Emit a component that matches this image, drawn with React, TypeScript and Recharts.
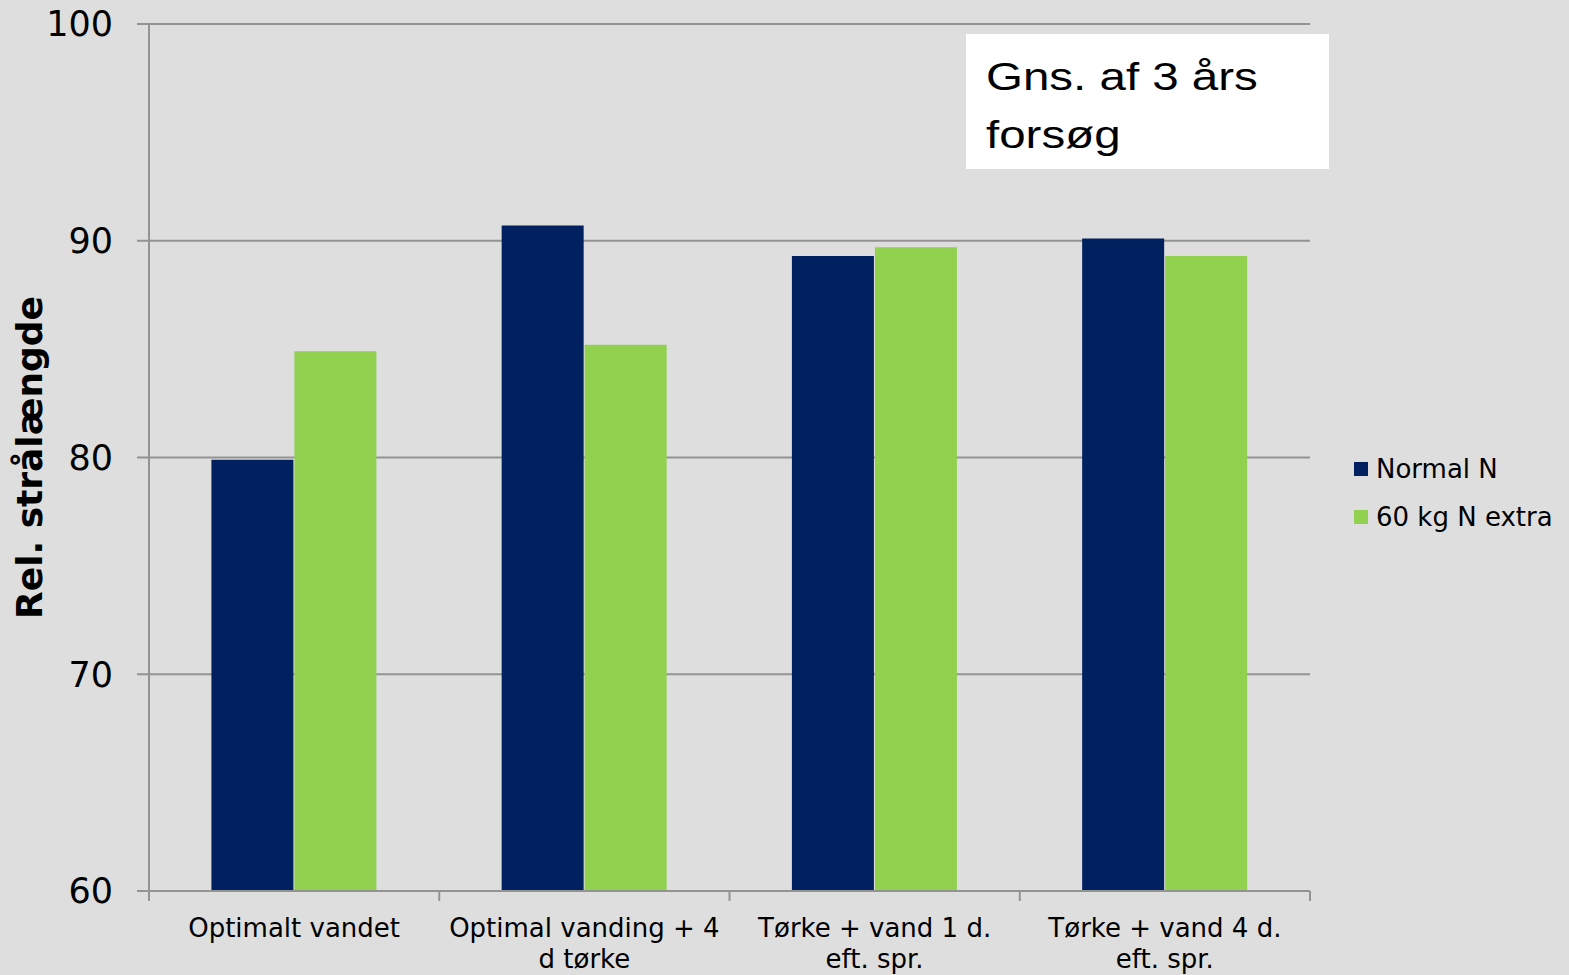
import React from "react";
import {
  BarChart,
  Bar,
  XAxis,
  YAxis,
  CartesianGrid,
  Legend,
} from "recharts";

const categories = [
  "Optimalt vandet",
  "Optimal vanding + 4 d tørke",
  "Tørke + vand 1 d. eft. spr.",
  "Tørke + vand 4 d. eft. spr.",
];
const normalN = [79.9, 90.7, 89.3, 90.1];
const extraN = [84.9, 85.2, 89.7, 89.3];
const yTicks = [60, 70, 80, 90, 100];
const seriesNames = ["Normal N", "60 kg N extra"];
const yTitle = "Rel. strålængde";
const noteLines = ["Gns. af 3 års", "forsøg"];

const W = 1569;
const H = 975;
const Y_AXIS_W = 149;
const RIGHT = 259;
const BAND = (W - Y_AXIS_W - RIGHT) / categories.length;

const FONT = "'DejaVu Sans', Verdana, sans-serif";
const GRID = "#939393";
const NAVY = "#002060";
const GREEN = "#92d050";
const seriesColors = [NAVY, GREEN];

const data = categories.map((name, i) => ({
  name,
  normal: normalN[i],
  extra: extraN[i],
}));

// simple word wrap by character count
function wrap(label: string, max = 19): string[] {
  const lines: string[] = [];
  let cur = "";
  for (const w of label.split(" ")) {
    const next = cur ? cur + " " + w : w;
    if (next.length > max && cur) {
      lines.push(cur);
      cur = w;
    } else {
      cur = next;
    }
  }
  if (cur) lines.push(cur);
  return lines;
}

function XTick(props: any) {
  const { x, y, payload, index } = props;
  const lines = wrap(String(payload.value));
  const last = index === categories.length - 1;
  return (
    <g>
      <line x1={x - BAND / 2} x2={x - BAND / 2} y1={y} y2={y + 10} stroke={GRID} strokeWidth={2} />
      {last && (
        <line x1={x + BAND / 2} x2={x + BAND / 2} y1={y} y2={y + 10} stroke={GRID} strokeWidth={2} />
      )}
      <text x={x} y={y + 46} textAnchor="middle" fontSize={26} fontFamily={FONT} fill="#000">
        {lines.map((l, i) => (
          <tspan key={i} x={x} dy={i === 0 ? 0 : 31}>
            {l}
          </tspan>
        ))}
      </text>
    </g>
  );
}

function YTitle(props: any) {
  const vb = props.viewBox || { x: 0, y: 24, height: 867 };
  const cx = vb.x + 42;
  const cy = vb.y + vb.height / 2;
  return (
    <text
      x={cx}
      y={cy}
      transform={`rotate(-90 ${cx} ${cy})`}
      textAnchor="middle"
      fontSize={36}
      fontWeight="bold"
      fontFamily={FONT}
      fill="#000"
    >
      {yTitle}
    </text>
  );
}

function LegendBox() {
  return (
    <div style={{ fontFamily: FONT, fontSize: 26, color: "#000" }}>
      {seriesNames.map((name, i) => (
        <div key={name} style={{ display: "flex", alignItems: "center", height: 48, whiteSpace: "nowrap" }}>
          <span style={{ width: 14, height: 14, background: seriesColors[i], marginRight: 8, display: "inline-block" }} />
          <span>{name}</span>
        </div>
      ))}
    </div>
  );
}

export default function App() {
  return (
    <div style={{ position: "absolute", left: 0, top: 0, width: W, height: H, background: "#dedede", overflow: "hidden" }}>
      <BarChart
        width={W}
        height={H}
        data={data}
        margin={{ top: 24, right: RIGHT, bottom: 0, left: 0 }}
        barGap={1}
        barCategoryGap="21.5%"
      >
        <CartesianGrid horizontal vertical={false} stroke={GRID} strokeWidth={2} />
        <XAxis
          dataKey="name"
          height={84}
          interval={0}
          tickLine={false}
          tickSize={0}
          tickMargin={0}
          axisLine={{ stroke: GRID, strokeWidth: 2 }}
          tick={(p: any) => <XTick {...p} />}
        />
        <YAxis
          width={Y_AXIS_W}
          domain={[60, 100]}
          ticks={yTicks}
          interval={0}
          allowDataOverflow
          tickSize={12}
          tickMargin={24}
          axisLine={{ stroke: GRID, strokeWidth: 2 }}
          tickLine={{ stroke: GRID, strokeWidth: 2 }}
          tick={{ fill: "#000", fontSize: 35, fontFamily: FONT }}
          label={{ content: (p: any) => <YTitle {...p} /> }}
        />
        <Legend
          layout="horizontal"
          verticalAlign="middle"
          align="center"
          wrapperStyle={{ position: "absolute", left: 1354, top: 445, width: 215, height: 96 }}
          content={() => <LegendBox />}
        />
        <Bar dataKey="normal" name={seriesNames[0]} fill={NAVY} isAnimationActive={false} />
        <Bar dataKey="extra" name={seriesNames[1]} fill={GREEN} isAnimationActive={false} />
      </BarChart>
      <svg width={W} height={H} style={{ position: "absolute", left: 0, top: 0, pointerEvents: "none" }}>
        <rect x={966} y={34} width={363} height={135} fill="#fff" />
        {noteLines.map((l, i) => (
          <text
            key={i}
            x={0}
            y={0}
            transform={`translate(986 ${90 + i * 58}) scale(1.25 1)`}
            fontSize={38}
            fontFamily="'Liberation Sans', Arial, sans-serif"
            fill="#000"
          >
            {l}
          </text>
        ))}
      </svg>
    </div>
  );
}
